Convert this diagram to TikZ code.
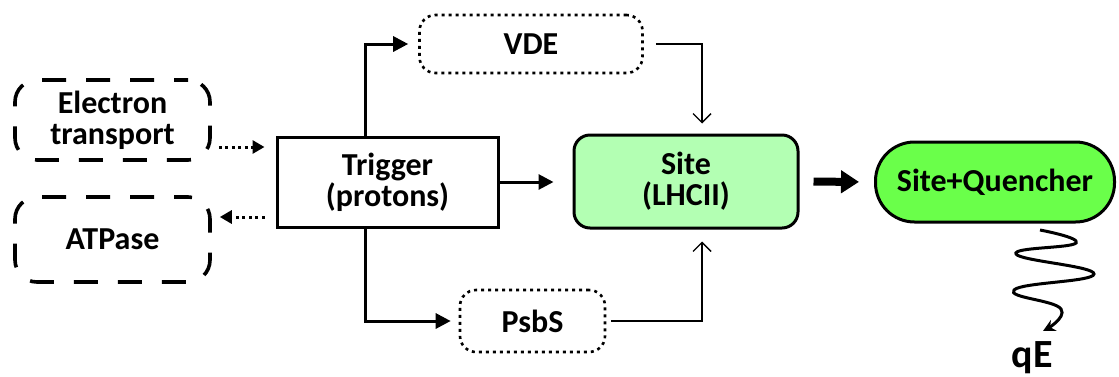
\documentclass[tikz,border=0pt]{standalone}
\usepackage{fontspec}
\setmainfont{Carlito}
\usetikzlibrary{arrows.meta,calc}
\definecolor{sitegreen}{HTML}{B3FFB3}
\definecolor{quenchgreen}{HTML}{6AFF4A}
\begin{document}
\begin{tikzpicture}[x=1pt,y=-1pt,
  every node/.style={font=\bfseries\fontsize{32}{31}\selectfont, align=center, inner sep=0pt},
  dashbox/.style={draw, line width=3.6pt, rounded corners=22pt, dash pattern=on 24pt off 20pt, dash phase=10pt,
    minimum width=195pt, minimum height=80pt},
  dotbox/.style={draw, line width=2.6pt, rounded corners=16pt, dash pattern=on 3pt off 4pt},
  plainbox/.style={draw, line width=3pt, minimum width=221pt, minimum height=90pt},
  sitebox/.style={draw, line width=3pt, rounded corners=16pt, fill=sitegreen, minimum width=224pt, minimum height=93pt},
  quenchbox/.style={draw, line width=3pt, rounded corners=39pt, fill=quenchgreen, minimum width=239pt, minimum height=80pt},
  thickarrow/.style={line width=3pt, -{Triangle[length=15pt,width=15pt]}},
  thinarrow/.style={line width=1.4pt, -{Straight Barb[length=9pt,width=18pt,line width=1.4pt]}},
  dotarrow/.style={line width=3pt, dash pattern=on 3pt off 3.5pt, -{Triangle[length=12pt,width=13pt]}},
  bigarrow/.style={line width=8pt, -{Triangle[length=18pt,width=22pt]}}
]
\useasboundingbox (0,0) rectangle (1119,376);

% boxes
\node[dashbox] (et) at (112.5,120) {Electron\\transport};
\node[dashbox, minimum height=85pt] (atp) at (112.5,239.5) {ATPase};
\node[plainbox] (trig) at (387.5,182) {Trigger\\(protons)};
\node[dotbox, minimum width=223pt, minimum height=58pt] (vde) at (531,44) {VDE};
\node[dotbox, minimum width=145pt, minimum height=62pt] (psbs) at (532.5,321) {PsbS};
\node[sitebox] (site) at (686,181.5) {Site\\(LHCII)};
\node[quenchbox] (quen) at (995,182) {Site+Quencher};
\node[font=\bfseries\fontsize{40}{40}\selectfont] (qe) at (1032,358) {qE};

% connectors
\draw[dotarrow, shorten <=7pt, shorten >=11pt] (et.east |- 0,147) coordinate (etout) -- (etout -| trig.west);
\draw[dotarrow, shorten <=11pt, shorten >=8pt] (trig.west |- 0,217) coordinate (atin) -- (atin -| atp.east);
\draw[thickarrow, shorten >=10pt] ([xshift=-22.5pt]trig.north) |- (vde.west);
\draw[thickarrow, shorten >=8pt] ([xshift=-22.5pt]trig.south) |- (psbs.west);
\draw[thickarrow, shorten >=19pt] (trig.east) -- (trig.east -| site.west);
\draw[thinarrow, shorten <=12pt, shorten >=10pt] (vde.east) -| ([xshift=16pt]site.north);
\draw[thinarrow, shorten <=5pt, shorten >=12pt] (psbs.east) -| ([xshift=16pt]site.south);
\draw[bigarrow, shorten <=14pt, shorten >=15pt] (site.east) -- (quen.west);

% wavy emission line towards qE
\draw[line width=3pt, -{Stealth[length=12pt,width=12pt]}]
  plot[smooth, tension=0.8] coordinates {(1040,230) (1076,243) (1016,254) (1094,274) (1014,290) (1061,309) (1043,331)};
\end{tikzpicture}
\end{document}
